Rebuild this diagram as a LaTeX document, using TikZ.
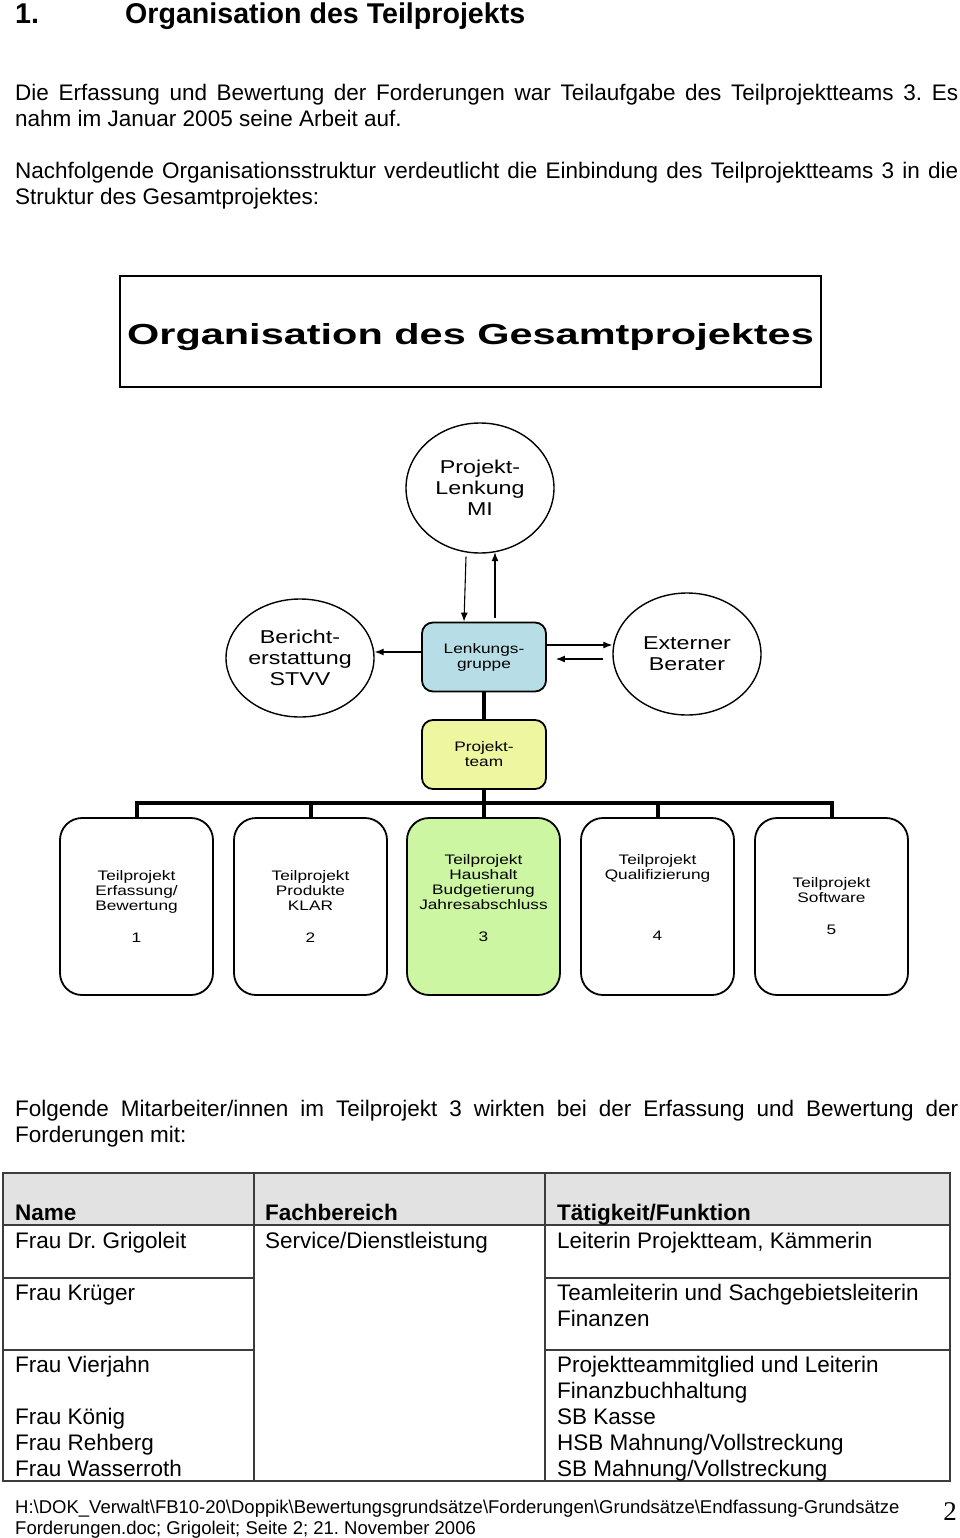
\documentclass[tikz,border=0pt]{standalone}
\usepackage{fontspec}
\setmainfont{Liberation Sans}
\newfontfamily\dg[FakeStretch=1.25]{Liberation Sans}
\newfontfamily\dgt[FakeStretch=1.43]{Liberation Sans}
\newfontfamily\srf{Liberation Serif}
\usetikzlibrary{shapes.geometric,arrows.meta,calc}
\frenchspacing
\definecolor{lgblue}{RGB}{183,222,230}
\definecolor{ptyellow}{RGB}{238,247,160}
\definecolor{tpgreen}{RGB}{204,246,162}
\definecolor{hdrgray}{RGB}{226,226,226}
\definecolor{tblline}{RGB}{60,60,60}
\tikzset{
 body/.style={anchor=base west, inner sep=0pt, font=\fontsize{22.5}{26}\selectfont},
 foot/.style={anchor=base west, inner sep=0pt, font=\fontsize{18.5}{21}\selectfont},
 circ/.style={ellipse, draw, line width=1.4pt, inner sep=0pt, align=center, font=\dg\fontsize{18.6}{21}\selectfont},
 sbox/.style={rectangle, rounded corners=11pt, draw, line width=1.8pt, minimum width=124pt, minimum height=69pt, inner sep=0pt, align=center, font=\dg\fontsize{13.8}{15}\selectfont},
 tpbox/.style={rectangle, rounded corners=22pt, draw, line width=1.8pt, minimum width=153pt, minimum height=177pt, inner sep=0pt},
 tptext/.style={anchor=north, inner sep=0pt, align=center, font=\dg\fontsize{13.8}{15}\selectfont},
 arr/.style={line width=1.1pt, -{Latex[length=9pt,width=7pt]}},
 tree/.style={line width=4pt, line join=miter},
 tbl/.style={line width=1.3pt, draw=tblline},
}
\begin{document}
\begin{tikzpicture}[x=1pt,y=-1pt]
\useasboundingbox (0,0) rectangle (960,1538);
\fill[white] (0,0) rectangle (960,1538);

% heading
\node[anchor=base west, inner sep=0pt, font=\bfseries\fontsize{28.6}{32}\selectfont] (h1) at (15,24) {1.};
\node[anchor=base west, inner sep=0pt, font=\bfseries\fontsize{28.6}{32}\selectfont] (h2) at (125,24) {Organisation des Teilprojekts};

% paragraphs
\node[body] (p1a) at (15,101) {\makebox[943pt][s]{Die Erfassung und Bewertung der Forderungen war Teilaufgabe des Teilprojektteams 3. Es}};
\node[body] (p1b) at (15,127) {nahm im Januar 2005 seine Arbeit auf.};
\node[body] (p2a) at (15,179) {\makebox[943pt][s]{Nachfolgende Organisationsstruktur verdeutlicht die Einbindung des Teilprojektteams 3 in die}};
\node[body] (p2b) at (15,205) {Struktur des Gesamtprojektes:};

% diagram
\node[draw, line width=1.8pt, minimum width=701pt, minimum height=111pt, inner sep=0pt, text height=26pt, text depth=0pt, font=\dgt\bfseries\fontsize{29}{34}\selectfont] (gp) at (470.5,331.5) {Organisation des Gesamtprojektes};

\node[circ, minimum width=148pt, minimum height=130pt] (pl) at (480,488) {Projekt-\\Lenkung\\MI};
\node[circ, minimum width=148pt, minimum height=118pt] (br) at (300,658) {Bericht-\\erstattung\\STVV};
\node[circ, minimum width=148pt, minimum height=122pt] (ex) at (687,654) {Externer\\Berater};

\node[sbox, fill=lgblue] (lg) at (484,657) {Lenkungs-\\gruppe};
\node[sbox, fill=ptyellow] (pt) at (484,754.5) {Projekt-\\team};

\node[tpbox] (tp1) at (136.5,906.5) {};
\node[tpbox] (tp2) at (310.5,906.5) {};
\node[tpbox, fill=tpgreen] (tp3) at (483.5,906.5) {};
\node[tpbox] (tp4) at (657.5,906.5) {};
\node[tpbox] (tp5) at (831.5,906.5) {};

\node[tptext] (tp1t) at (136.5,870) {Teilprojekt\\Erfassung/\\Bewertung\\[17pt]1};
\node[tptext] (tp2t) at (310.5,870) {Teilprojekt\\Produkte\\KLAR\\[17pt]2};
\node[tptext] (tp3t) at (483.5,854) {Teilprojekt\\Haushalt\\Budgetierung\\Jahresabschluss\\[17pt]3};
\node[tptext] (tp4t) at (657.5,854) {Teilprojekt\\Qualifizierung\\[46pt]4};
\node[tptext] (tp5t) at (831.5,877) {Teilprojekt\\Software\\[17pt]5};

% connectors
\draw[arr] ($(pl.south)+(-14,3)$) -- ($(lg.north)+(-20,0)$);
\draw[arr] ($(lg.north)+(11,-4)$) -- ($(pl.south)+(15,-1.5)$);
\draw[arr] ($(lg.west)+(0,-5)$) -- ($(lg.west -| br.east)+(0,-5)$);
\draw[arr] ($(lg.east)+(0,-12)$) -- ($(lg.east -| ex.west)+(0,-12)$);
\draw[arr] ($(lg.east -| ex.west)+(-9,2)$) -- ($(lg.east)+(9,2)$);

\coordinate (bary) at (484,803);
\draw[line width=3.5pt] (lg.south) -- (pt.north);
\draw[tree] (pt.south) -- (pt.south |- bary);
\draw[tree] (tp1.north) -- (tp1.north |- bary) -- (tp5.north |- bary) -- (tp5.north);
\draw[tree] (tp2.north |- bary) -- (tp2.north);
\draw[tree] (tp3.north |- bary) -- (tp3.north);
\draw[tree] (tp4.north |- bary) -- (tp4.north);

% paragraph 3
\node[body] (p3a) at (15,1116) {\makebox[943pt][s]{Folgende Mitarbeiter/innen im Teilprojekt 3 wirkten bei der Erfassung und Bewertung der}};
\node[body] (p3b) at (15,1142) {Forderungen mit:};

% table
\fill[hdrgray] (3,1173) rectangle (950,1225);
\draw[tbl] (3,1173) rectangle (950,1481);
\draw[tbl] (3,1225) -- (950,1225);
\draw[tbl] (254,1173) -- (254,1481);
\draw[tbl] (545,1173) -- (545,1481);
\draw[tbl] (3,1278) -- (254,1278);
\draw[tbl] (545,1278) -- (950,1278);
\draw[tbl] (3,1350) -- (254,1350);
\draw[tbl] (545,1350) -- (950,1350);

\node[body, font=\bfseries\fontsize{22.5}{26}\selectfont] (th1) at (15,1220) {Name};
\node[body, font=\bfseries\fontsize{22.5}{26}\selectfont] (th2) at (265,1220) {Fachbereich};
\node[body, font=\bfseries\fontsize{22.5}{26}\selectfont] (th3) at (557,1220) {Tätigkeit/Funktion};

\node[body] (r1a) at (15,1248) {Frau Dr. Grigoleit};
\node[body] (r1b) at (265,1248) {Service/Dienstleistung};
\node[body] (r1c) at (557,1248) {Leiterin Projektteam, Kämmerin};
\node[body] (r2a) at (15,1300) {Frau Krüger};
\node[body] (r2c) at (557,1300) {Teamleiterin und Sachgebietsleiterin};
\node[body] (r2d) at (557,1326) {Finanzen};
\node[body] (r3a) at (15,1372) {Frau Vierjahn};
\node[body] (r3c) at (557,1372) {Projektteammitglied und Leiterin};
\node[body] (r3d) at (557,1398) {Finanzbuchhaltung};
\node[body] (r4a) at (15,1424) {Frau König};
\node[body] (r4c) at (557,1424) {SB Kasse};
\node[body] (r5a) at (15,1450) {Frau Rehberg};
\node[body] (r5c) at (557,1450) {HSB Mahnung/Vollstreckung};
\node[body] (r6a) at (15,1476) {Frau Wasserroth};
\node[body] (r6c) at (557,1476) {SB Mahnung/Vollstreckung};

% footer
\node[foot] (f1) at (15,1513) {H:\textbackslash DOK\_Verwalt\textbackslash FB10-20\textbackslash Doppik\textbackslash Bewertungsgrundsätze\textbackslash Forderungen\textbackslash Grundsätze\textbackslash Endfassung-Grundsätze};
\node[foot] (f2) at (15,1534) {Forderungen.doc; Grigoleit; Seite 2; 21. November 2006};
\node[anchor=base east, inner sep=0pt, font=\srf\fontsize{27}{30}\selectfont] (pg) at (957,1520) {2};
\end{tikzpicture}
\end{document}
